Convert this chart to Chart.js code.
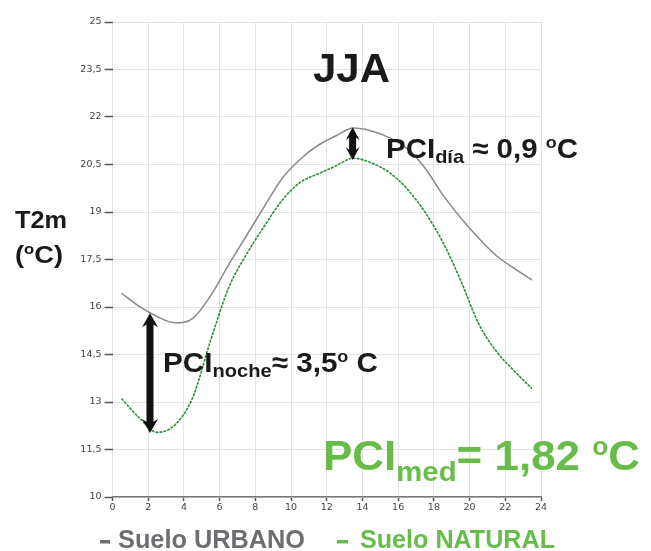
<!DOCTYPE html>
<html>
<head>
<meta charset="utf-8">
<script src="https://cdn.jsdelivr.net/npm/chart.js@4.4.1/dist/chart.umd.min.js"></script>
<style>
html,body{margin:0;padding:0;background:#fff;}
#c{display:block;}
</style>
</head>
<body>
<canvas id="c" width="651" height="551"></canvas>
<script>
// ---- data ----
const hours = [0.5,1.5,2.5,3.5,4.5,5.5,6.5,7.5,8.5,9.5,10.5,11.5,12.5,13.5,14.5,15.5,16.5,17.5,18.5,19.5,20.5,21.5,22.5,23.5];
const urbano = [16.44,16.02,15.70,15.50,15.64,16.36,17.33,18.25,19.17,20.06,20.66,21.10,21.40,21.65,21.56,21.35,21.00,20.39,19.54,18.82,18.18,17.62,17.22,16.85];
const natural = [13.11,12.50,12.04,12.28,13.15,14.95,16.60,17.66,18.55,19.37,19.93,20.20,20.45,20.70,20.55,20.25,19.73,19.00,18.05,16.84,15.48,14.60,13.98,13.42];
const yTickValues = [10,11.5,13,14.5,16,17.5,19,20.5,22,23.5,25];
const yTickLabels = ['10','11,5','13','14,5','16','17,5','19','20,5','22','23,5','25'];
const xTickValues = [0,2,4,6,8,10,12,14,16,18,20,22,24];
const xTickLabels = ['0','2','4','6','8','10','12','14','16','18','20','22','24'];
const nightGap = {hour: 2.1, top: 15.8, bottom: 12.02};
const dayGap = {hour: 13.45, top: 21.68, bottom: 20.64};

const GREEN = '#68bd4a';
const FONT = '"Liberation Sans", Arial, Helvetica, sans-serif';

function drawRich(ctx, parts, x, y, targetW, color) {
  let widths = [], total = 0;
  parts.forEach(p => {
    ctx.font = 'bold ' + p.size + 'px ' + FONT;
    const w = ctx.measureText(p.t).width;
    widths.push(w); total += w;
  });
  const s = targetW ? targetW / total : 1;
  ctx.save();
  ctx.translate(x, y);
  ctx.scale(s, 1);
  ctx.fillStyle = color;
  ctx.textBaseline = 'alphabetic';
  ctx.textAlign = 'left';
  let cx = 0;
  parts.forEach((p, i) => {
    ctx.font = 'bold ' + p.size + 'px ' + FONT;
    ctx.fillText(p.t, cx, p.dy || 0);
    cx += widths[i];
  });
  ctx.restore();
}

function drawDoubleArrow(ctx, x, y1, y2, shaftW, headW, headL) {
  ctx.save();
  ctx.fillStyle = '#111';
  ctx.beginPath();
  ctx.moveTo(x, y1);
  ctx.lineTo(x + headW / 2, y1 + headL);
  ctx.lineTo(x + shaftW / 2, y1 + headL * 0.8);
  ctx.lineTo(x + shaftW / 2, y2 - headL * 0.8);
  ctx.lineTo(x + headW / 2, y2 - headL);
  ctx.lineTo(x, y2);
  ctx.lineTo(x - headW / 2, y2 - headL);
  ctx.lineTo(x - shaftW / 2, y2 - headL * 0.8);
  ctx.lineTo(x - shaftW / 2, y1 + headL * 0.8);
  ctx.lineTo(x - headW / 2, y1 + headL);
  ctx.closePath();
  ctx.fill();
  ctx.restore();
}

const overlay = {
  id: 'overlay',
  afterDatasetsDraw(chart) {
    const ctx = chart.ctx;
    const xs = chart.scales.x, ys = chart.scales.y;
    drawDoubleArrow(ctx, xs.getPixelForValue(nightGap.hour), ys.getPixelForValue(nightGap.top), ys.getPixelForValue(nightGap.bottom), 7, 16, 14);
    drawDoubleArrow(ctx, xs.getPixelForValue(dayGap.hour), ys.getPixelForValue(dayGap.top), ys.getPixelForValue(dayGap.bottom), 7, 14, 13);
  },
  afterDraw(chart) {
    const ctx = chart.ctx;
    drawRich(ctx, [{t:'JJA', size:40}], 313, 82, 77, '#1a1a1a');
    drawRich(ctx, [{t:'T2m', size:24}], 15, 228, 52, '#1a1a1a');
    drawRich(ctx, [{t:'(', size:23}, {t:'o', size:14, dy:-9}, {t:'C)', size:23}], 15, 263, 48, '#1a1a1a');
    drawRich(ctx, [{t:'PCI', size:28}, {t:'día', size:19, dy:5}, {t:' \u2248 0,9 ', size:28}, {t:'o', size:17, dy:-10}, {t:'C', size:28}], 386, 158, 192, '#1a1a1a');
    drawRich(ctx, [{t:'PCI', size:28}, {t:'noche', size:19, dy:5}, {t:'\u2248 3,5', size:28}, {t:'o', size:17, dy:-10}, {t:' C', size:28}], 163, 372, 215, '#1a1a1a');
    drawRich(ctx, [{t:'PCI', size:42}, {t:'med', size:28, dy:11}, {t:'= 1,82 ', size:42}, {t:'o', size:25, dy:-15}, {t:'C', size:42}], 323, 470, 317, GREEN);
    ctx.save();
    ctx.fillStyle = '#6d6e71';
    ctx.fillRect(100, 540, 10, 3.5);
    ctx.fillStyle = GREEN;
    ctx.fillRect(337, 540, 11, 3.5);
    ctx.restore();
    drawRich(ctx, [{t:'Suelo URBANO', size:25}], 118, 548, 187, '#6d6e71');
    drawRich(ctx, [{t:'Suelo NATURAL', size:25}], 360, 548, 195, GREEN);
  }
};

const toPts = arr => arr.map((v, i) => ({x: hours[i], y: v}));

new Chart(document.getElementById('c'), {
  type: 'line',
  data: {
    datasets: [
      {label: 'Suelo URBANO', data: toPts(urbano), borderColor: '#8a8a8a', borderWidth: 1.5, pointRadius: 0, cubicInterpolationMode: 'monotone', fill: false},
      {label: 'Suelo NATURAL', data: toPts(natural), borderColor: '#2e8f3e', borderWidth: 1.6, borderDash: [3, 1], pointRadius: 0, cubicInterpolationMode: 'monotone', fill: false}
    ]
  },
  options: {
    responsive: false,
    animation: false,
    layout: {padding: {left: 0, top: 22, right: 110, bottom: 0}},
    plugins: {legend: {display: false}, tooltip: {enabled: false}, title: {display: false}},
    scales: {
      x: {
        type: 'linear', min: 0, max: 24,
        afterBuildTicks: s => { s.ticks = xTickValues.map(v => ({value: v})); },
        afterFit: s => { s.height = 54; },
        ticks: {callback: (v, i) => xTickLabels[i], font: {family: '"DejaVu Sans", sans-serif', size: 9.5}, color: '#444', padding: 1, maxRotation: 0, autoSkip: false},
        grid: {color: '#e3e3e3', lineWidth: 1, tickLength: 4, tickColor: '#555', tickWidth: 1.5},
        border: {display: true, color: '#777', width: 1.5}
      },
      y: {
        type: 'linear', min: 10, max: 25,
        afterBuildTicks: s => { s.ticks = yTickValues.map(v => ({value: v})); },
        afterFit: s => { s.width = 112.5; },
        ticks: {callback: (v, i) => yTickLabels[i], font: {family: '"DejaVu Sans", sans-serif', size: 9.5}, color: '#444', padding: 3, autoSkip: false},
        grid: {color: '#e3e3e3', lineWidth: 1, tickLength: 8, tickColor: '#555', tickWidth: 1.5},
        border: {display: false}
      }
    }
  },
  plugins: [overlay]
});
</script>
</body>
</html>
